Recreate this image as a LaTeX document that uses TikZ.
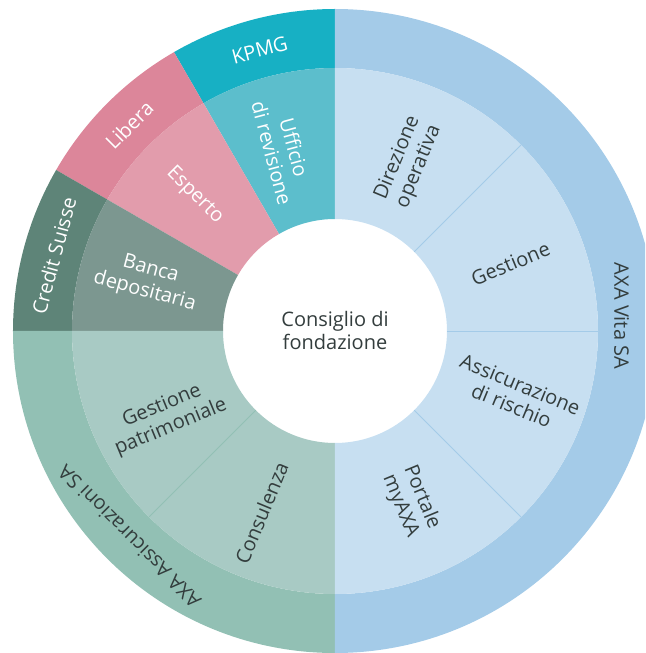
\documentclass[tikz,border=0pt]{standalone}
\usepackage{fontspec}
\setmainfont{Open Sans}
\usetikzlibrary{positioning}

\definecolor{kpmg}{HTML}{17B0C4}
\definecolor{revisione}{HTML}{5CBECC}
\definecolor{libera}{HTML}{DC869A}
\definecolor{esperto}{HTML}{E29CAC}
\definecolor{creditsuisse}{HTML}{5E8478}
\definecolor{depositaria}{HTML}{7C9790}
\definecolor{axaass}{HTML}{92C0B4}
\definecolor{axaassin}{HTML}{A8CAC4}
\definecolor{axavita}{HTML}{A4CBE8}
\definecolor{axavitain}{HTML}{C7DFF1}
\definecolor{labeltext}{HTML}{333D3D}

% ring sector: colour, start angle, end angle, inner radius, outer radius
\newcommand{\ringsector}[5]{%
  \fill[#1] (#2:#4) arc[start angle=#2, end angle=#3, radius=#4]
    -- (#3:#5) arc[start angle=#3, end angle=#2, radius=#5] -- cycle;}

\tikzset{
  lbl/.style={font=\fontsize{20}{23}\selectfont, align=center, text=labeltext, inner sep=0pt},
  lblwhite/.style={lbl, text=white},
  divider/.style={line width=0.8pt},
}

\begin{document}
\begin{tikzpicture}
  \useasboundingbox (-335pt,-322pt) rectangle (310pt,331pt);
  \clip (-335pt,-322pt) rectangle (310pt,331pt);

  % outer ring
  \ringsector{kpmg}{90}{120}{263pt}{322pt}
  \ringsector{libera}{120}{150}{263pt}{322pt}
  \ringsector{creditsuisse}{150}{180}{263pt}{322pt}
  \ringsector{axaass}{180}{270}{263pt}{322pt}
  \ringsector{axavita}{-90}{90}{263pt}{322pt}

  % inner ring
  \ringsector{revisione}{90}{120}{112pt}{263pt}
  \ringsector{esperto}{120}{150}{112pt}{263pt}
  \ringsector{depositaria}{150}{180}{112pt}{263pt}
  \ringsector{axaassin}{180}{270}{112pt}{263pt}
  \ringsector{axavitain}{-90}{90}{112pt}{263pt}

  % dividers
  \foreach \a in {45,0,-45}
    \draw[divider, axavita] (\a:112pt) -- (\a:263pt);
  \draw[divider, axaass] (225:112pt) -- (225:263pt);

  % centre
  \node[lbl] (consiglio) at (0,0) {Consiglio di\\fondazione};

  % outer labels
  \node[lblwhite, rotate=15] (kpmgl) at (105:291pt) {KPMG};
  \node[lblwhite, rotate=45] (liberal) at (135:291pt) {Libera};
  \node[lblwhite, rotate=75] (creditl) at (165:291pt) {Credit Suisse};
  \node[lbl, rotate=135] (axaassl) at (225:291pt) {AXA Assicurazioni SA};
  \node[lbl, rotate=-90] (axavital) at (3:287pt) {AXA Vita SA};

  % inner labels
  \node[lblwhite, rotate=-75] (revisionel) at (106:188pt) {Ufficio\\di revisione};
  \node[lblwhite, rotate=-45] (espertol) at (136:195pt) {Esperto};
  \node[lblwhite, rotate=-15] (depositarial) at (165:194pt) {Banca\\depositaria};
  \node[lbl, rotate=67.5] (direzionel) at (66.5:184pt) {Direzione\\operativa};
  \node[lbl, rotate=22.5] (gestionel) at (21:188pt) {Gestione};
  \node[lbl, rotate=-22.5] (rischiol) at (-19.5:192pt) {Assicurazione\\di rischio};
  \node[lbl, rotate=-67.5] (portalel) at (-66:187pt) {Portale\\myAXA};
  \node[lbl, rotate=22.5] (patrimonialel) at (207:189pt) {Gestione\\patrimoniale};
  \node[lbl, rotate=67.5] (consulenzal) at (248:196pt) {Consulenza};
\end{tikzpicture}
\end{document}
